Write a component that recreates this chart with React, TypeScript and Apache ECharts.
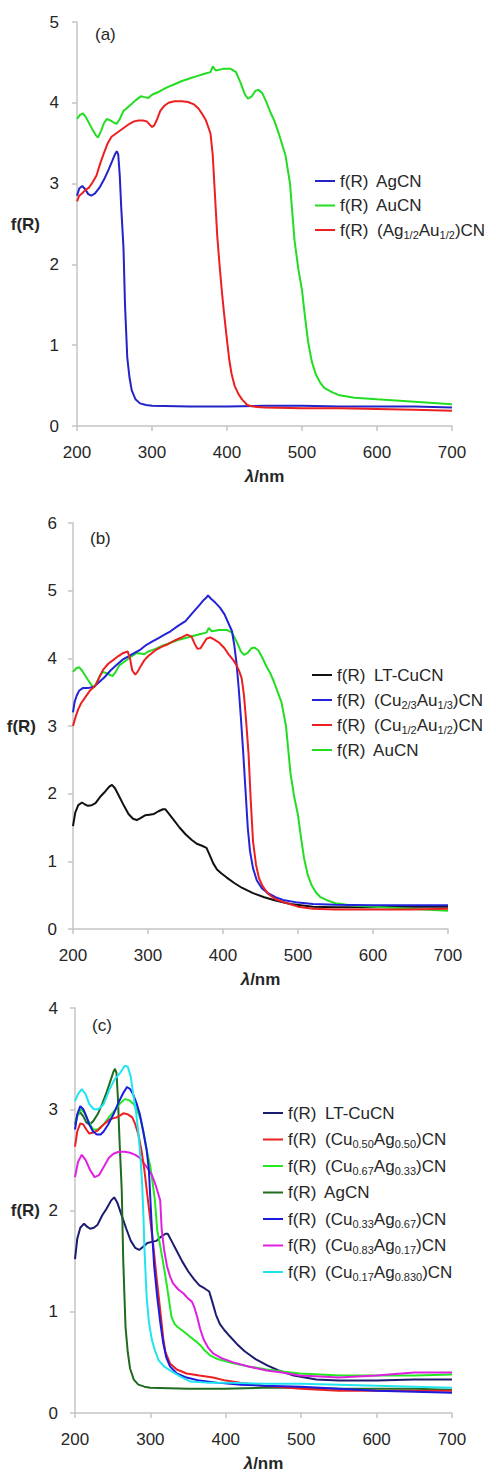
import React, { useEffect, useRef } from "react";
import * as echarts from "echarts";

const FONT = '"Liberation Sans", Arial, Helvetica, sans-serif';

// ---------- shared x ticks ----------
const xTicks = [200, 300, 400, 500, 600, 700];

// ---------- Panel (a) ----------
const agcnL = [200, 203, 207, 211, 215, 219, 224, 230, 236, 242, 247, 251, 253, 255, 257, 259, 262, 264, 267, 270, 273, 278, 284, 292, 300, 350, 400, 450, 500, 550, 600, 650, 700];
const agcnV = [2.85, 2.94, 2.97, 2.93, 2.87, 2.85, 2.88, 2.95, 3.05, 3.17, 3.28, 3.37, 3.4, 3.36, 3.1, 2.7, 2.2, 1.5, 0.85, 0.6, 0.44, 0.33, 0.28, 0.26, 0.25, 0.24, 0.24, 0.25, 0.25, 0.24, 0.24, 0.24, 0.23];

const aucnL = [200, 204, 208, 212, 216, 220, 225, 228, 232, 236, 240, 245, 250, 253, 257, 262, 266, 272, 278, 285, 290, 295, 300, 310, 320, 330, 340, 350, 360, 370, 378, 381, 385, 395, 405, 412, 418, 424, 428, 433, 438, 442, 447, 452, 458, 463, 468, 473, 478, 484, 490, 495, 500, 504, 508, 513, 518, 524, 530, 540, 550, 570, 600, 650, 700];
const aucnV = [3.8, 3.85, 3.87, 3.82, 3.75, 3.68, 3.6, 3.57, 3.65, 3.75, 3.8, 3.78, 3.75, 3.74, 3.8, 3.9, 3.93, 3.98, 4.03, 4.08, 4.07, 4.06, 4.1, 4.14, 4.19, 4.23, 4.27, 4.3, 4.33, 4.36, 4.38, 4.45, 4.4, 4.42, 4.42, 4.38, 4.25, 4.1, 4.05, 4.08, 4.15, 4.16, 4.12, 4.02, 3.88, 3.78, 3.65, 3.5, 3.35, 3.0, 2.3, 1.95, 1.68, 1.35, 1.05, 0.8, 0.65, 0.54, 0.47, 0.42, 0.38, 0.35, 0.33, 0.3, 0.27];

const agauL = [200, 203, 207, 211, 216, 221, 226, 231, 236, 241, 246, 252, 258, 264, 270, 276, 282, 288, 293, 297, 300, 303, 307, 311, 316, 322, 330, 340, 348, 356, 362, 367, 372, 375, 378, 381, 384, 387, 390, 393, 396, 400, 403, 406, 410, 415, 420, 427, 435, 450, 500, 550, 600, 650, 700];
const agauV = [2.78, 2.85, 2.88, 2.92, 2.95, 3.02, 3.1, 3.25, 3.38, 3.5, 3.58, 3.62, 3.66, 3.7, 3.74, 3.77, 3.78, 3.78, 3.77, 3.73, 3.7, 3.72, 3.8, 3.9, 3.96, 4.0, 4.02, 4.02, 4.01, 3.98, 3.93, 3.86, 3.78, 3.7, 3.62, 3.35, 2.85, 2.35, 2.0, 1.68, 1.4, 1.06, 0.82, 0.65, 0.5, 0.4, 0.33, 0.26, 0.24, 0.23, 0.22, 0.22, 0.21, 0.2, 0.19];

// ---------- Panel (b) ----------
const ltL = [200, 203, 207, 212, 216, 220, 225, 230, 236, 242, 248, 252, 256, 262, 268, 274, 280, 285, 290, 296, 302, 308, 314, 320, 323, 328, 335, 342, 350, 358, 365, 372, 378, 382, 387, 392, 398, 405, 415, 425, 440, 455, 470, 490, 520, 550, 600, 650, 700];
const ltV = [1.52, 1.72, 1.83, 1.87, 1.84, 1.82, 1.83, 1.86, 1.95, 2.02, 2.1, 2.13, 2.08, 1.95, 1.82, 1.7, 1.63, 1.61, 1.64, 1.68, 1.69, 1.7, 1.74, 1.77, 1.77, 1.7, 1.6, 1.5, 1.4, 1.32, 1.26, 1.23, 1.2, 1.1, 0.97, 0.88, 0.82, 0.76, 0.68, 0.61, 0.53, 0.47, 0.42, 0.37, 0.33, 0.32, 0.32, 0.33, 0.33];

const cu23L = [200, 202, 205, 208, 213, 220, 228, 235, 242, 250, 258, 266, 274, 282, 290, 298, 306, 314, 322, 330, 340, 350, 360, 368, 374, 378, 380, 384, 390, 396, 402, 408, 412, 415, 418, 421, 424, 427, 430, 433, 436, 440, 445, 452, 460, 470, 480, 500, 520, 550, 600, 650, 700];
const cu23V = [3.2, 3.35, 3.45, 3.52, 3.56, 3.56, 3.58, 3.65, 3.72, 3.82, 3.9, 3.98, 4.03, 4.08, 4.13, 4.2, 4.25, 4.3, 4.35, 4.4, 4.48, 4.55, 4.68, 4.78, 4.86, 4.9, 4.93, 4.88, 4.82, 4.75, 4.65, 4.5, 4.4, 4.2, 3.93, 3.55, 3.1, 2.6, 2.05, 1.5, 1.15, 0.9, 0.72, 0.6, 0.53, 0.47, 0.43, 0.39, 0.37, 0.36, 0.35, 0.35, 0.35];

const cu12L = [200, 203, 207, 211, 216, 223, 230, 240, 247, 253, 260, 267, 273, 276, 279, 283, 286, 290, 295, 300, 310, 318, 325, 335, 343, 352, 358, 362, 366, 370, 374, 378, 383, 388, 395, 402, 408, 414, 418, 422, 425, 428, 431, 434, 437, 440, 444, 448, 453, 460, 470, 480, 500, 520, 550, 600, 650, 700];
const cu12V = [3.0, 3.12, 3.25, 3.34, 3.42, 3.53, 3.6, 3.83, 3.92, 3.97, 4.03, 4.08, 4.1, 4.0, 3.82, 3.76, 3.8, 3.88, 3.97, 4.03, 4.12, 4.17, 4.2, 4.26, 4.3, 4.35, 4.32, 4.22, 4.14, 4.15, 4.22, 4.29, 4.31, 4.28, 4.23, 4.15, 4.05, 3.97, 3.9, 3.8, 3.7, 3.45, 3.05, 2.6, 1.9, 1.3, 0.95, 0.75, 0.63, 0.52, 0.44, 0.4, 0.33, 0.3, 0.29, 0.29, 0.29, 0.3];

// ---------- Panel (c) ----------
const c50L = [200, 203, 207, 211, 215, 219, 224, 230, 238, 246, 255, 260, 264, 270, 276, 280, 284, 288, 292, 296, 300, 304, 308, 311, 314, 317, 320, 326, 335, 348, 365, 383, 400, 419, 450, 500, 550, 600, 650, 700];
const c50V = [2.63, 2.78, 2.86, 2.85, 2.8, 2.76, 2.77, 2.79, 2.85, 2.9, 2.92, 2.94, 2.96, 2.95, 2.92, 2.85, 2.75, 2.6, 2.4, 2.15, 1.9, 1.64, 1.35, 1.15, 0.95, 0.74, 0.6, 0.49, 0.43, 0.39, 0.37, 0.35, 0.32, 0.3, 0.27, 0.24, 0.22, 0.22, 0.22, 0.22];

const c67L = [200, 204, 208, 212, 218, 224, 230, 238, 246, 254, 260, 266, 272, 278, 282, 287, 291, 295, 300, 303, 306, 309, 313, 317, 321, 324, 328, 332, 336, 345, 353, 360, 366, 372, 379, 390, 410, 430, 454, 475, 498, 525, 550, 600, 650, 700];
const c67V = [2.85, 2.95, 3.0, 2.97, 2.88, 2.8, 2.8, 2.85, 2.93, 3.0, 3.06, 3.1, 3.09, 3.05, 3.0, 2.9, 2.77, 2.6, 2.43, 2.27, 2.1, 1.81, 1.65, 1.48, 1.3, 1.15, 0.95, 0.88, 0.85, 0.8, 0.75, 0.71, 0.67, 0.62, 0.57, 0.53, 0.49, 0.46, 0.43, 0.41, 0.39, 0.38, 0.37, 0.37, 0.37, 0.38];

const c33L = [200, 203, 207, 211, 214, 219, 224, 229, 234, 238, 244, 251, 258, 264, 269, 273, 277, 282, 286, 290, 295, 298, 302, 305, 309, 313, 317, 321, 326, 335, 348, 365, 388, 420, 450, 500, 550, 600, 650, 700];
const c33V = [2.8, 2.95, 3.03, 3.0, 2.95, 2.85, 2.78, 2.75, 2.75, 2.78, 2.85, 2.95, 3.07, 3.16, 3.22, 3.2, 3.15, 3.05, 2.95, 2.8, 2.6, 2.4, 1.81, 1.45, 1.15, 0.9, 0.69, 0.55, 0.46, 0.39, 0.35, 0.32, 0.3, 0.28, 0.27, 0.26, 0.24, 0.22, 0.21, 0.2];

const c83L = [200, 204, 209, 214, 220, 226, 232, 238, 245, 251, 258, 266, 273, 280, 286, 291, 296, 302, 307, 313, 315, 318, 322, 326, 330, 337, 344, 350, 355, 358, 362, 366, 371, 377, 383, 395, 410, 430, 454, 475, 498, 525, 550, 575, 600, 650, 700];
const c83V = [2.33, 2.48, 2.55, 2.5, 2.4, 2.33, 2.35, 2.43, 2.52, 2.56, 2.58, 2.58, 2.57, 2.55, 2.52, 2.47, 2.42, 2.35, 2.25, 2.1, 1.81, 1.62, 1.45, 1.35, 1.28, 1.22, 1.18, 1.13, 1.1, 1.05, 0.95, 0.83, 0.72, 0.64, 0.59, 0.54, 0.5, 0.46, 0.42, 0.4, 0.37, 0.36, 0.35, 0.36, 0.37, 0.4, 0.4];

const c17L = [200, 204, 209, 214, 219, 225, 231, 238, 246, 253, 260, 266, 270, 274, 277, 281, 284, 287, 289, 291, 292, 295, 298, 302, 306, 311, 318, 326, 340, 353, 375, 400, 450, 500, 550, 600, 650, 700];
const c17V = [3.08, 3.15, 3.2, 3.15, 3.05, 3.0, 3.0, 3.05, 3.2, 3.3, 3.36, 3.43, 3.42, 3.32, 3.16, 2.97, 2.77, 2.5, 2.27, 1.9, 1.64, 1.15, 0.9, 0.72, 0.62, 0.52, 0.46, 0.42, 0.36, 0.31, 0.3, 0.3, 0.29, 0.29, 0.28, 0.27, 0.26, 0.25];

// ---------- legend labels ----------
const labels: Record<string, string> = {
  a1: "{f|f(R)}{t| AgCN}",
  a2: "{f|f(R)}{t| AuCN}",
  a3: "{f|f(R)}{t| (Ag}{s|1/2}{t|Au}{s|1/2}{t|)CN}",
  b1: "{f|f(R)}{t| LT-CuCN}",
  b2: "{f|f(R)}{t| (Cu}{s|2/3}{t|Au}{s|1/3}{t|)CN}",
  b3: "{f|f(R)}{t| (Cu}{s|1/2}{t|Au}{s|1/2}{t|)CN}",
  b4: "{f|f(R)}{t| AuCN}",
  c1: "{f|f(R)}{t| LT-CuCN}",
  c2: "{f|f(R)}{t| (Cu}{s|0.50}{t|Ag}{s|0.50}{t|)CN}",
  c3: "{f|f(R)}{t| (Cu}{s|0.67}{t|Ag}{s|0.33}{t|)CN}",
  c4: "{f|f(R)}{t| AgCN}",
  c5: "{f|f(R)}{t| (Cu}{s|0.33}{t|Ag}{s|0.67}{t|)CN}",
  c6: "{f|f(R)}{t| (Cu}{s|0.83}{t|Ag}{s|0.17}{t|)CN}",
  c7: "{f|f(R)}{t| (Cu}{s|0.17}{t|Ag}{s|0.830}{t|)CN}",
};

const zip = (l: number[], v: number[]) => l.map((x, i) => [x, v[i]]);

const seriesDefs: [string, number, string, number[], number[]][] = [
  ["a1", 0, "#2323c8", agcnL, agcnV],
  ["a2", 0, "#22dd22", aucnL, aucnV],
  ["a3", 0, "#ec2020", agauL, agauV],
  ["b1", 1, "#111111", ltL, ltV],
  ["b4", 1, "#22dd22", aucnL, aucnV],
  ["b2", 1, "#2323d8", cu23L, cu23V],
  ["b3", 1, "#ec2020", cu12L, cu12V],
  ["c1", 2, "#1c1c6e", ltL, ltV],
  ["c4", 2, "#1f6b1f", agcnL, agcnV],
  ["c3", 2, "#22e822", c67L, c67V],
  ["c6", 2, "#e020e0", c83L, c83V],
  ["c2", 2, "#ec2020", c50L, c50V],
  ["c5", 2, "#1a1ae0", c33L, c33V],
  ["c7", 2, "#20e4f0", c17L, c17V],
];

const grids = [
  { left: 77, top: 22, width: 375, height: 404, ymax: 5, labelMargin: 18, nameGap: 37, namePad: 14 },
  { left: 73, top: 523, width: 375, height: 406, ymax: 6, labelMargin: 16, nameGap: 37, namePad: 0 },
  { left: 75, top: 1008, width: 377, height: 405, ymax: 4, labelMargin: 17, nameGap: 35, namePad: 16 },
];

const axisColor = "#c4c4c4";
const textColor = "#262626";

const rich = {
  f: { fontSize: 17, fontFamily: FONT, color: textColor, lineHeight: 20, padding: [0, 4, 0, 0] },
  t: { fontSize: 17, fontFamily: FONT, color: textColor, lineHeight: 20 },
  s: { fontSize: 11, fontFamily: FONT, color: textColor, lineHeight: 20, verticalAlign: "bottom", padding: [7, 0, 0, 0] },
};

const legendDefs = [
  { left: 315, top: 171, itemGap: 4.5, names: ["a1", "a2", "a3"] },
  { left: 312, top: 665, itemGap: 5, names: ["b1", "b2", "b3", "b4"] },
  { left: 263, top: 1103, itemGap: 6.5, names: ["c1", "c2", "c3", "c4", "c5", "c6", "c7"] },
];

const panelLabels = [
  { text: "(a)", x: 95, y: 34 },
  { text: "(b)", x: 90, y: 538 },
  { text: "(c)", x: 92, y: 1025 },
];

export default function App() {
  const ref = useRef<HTMLDivElement>(null);
  useEffect(() => {
    const chart = echarts.init(ref.current!, null, { renderer: "svg" });
    const option: any = {
      animation: false,
      backgroundColor: "#ffffff",
      textStyle: { fontFamily: FONT },
      grid: grids.map((g) => ({ left: g.left, top: g.top, width: g.width, height: g.height })),
      xAxis: grids.map((g, i) => ({
        gridIndex: i,
        type: "value",
        min: xTicks[0],
        max: xTicks[xTicks.length - 1],
        interval: 100,
        name: "{l|λ}{n|/nm}",
        nameLocation: "middle",
        nameGap: 42,
        nameTextStyle: {
          rich: {
            l: { fontSize: 17, fontWeight: "bold", fontStyle: "italic", fontFamily: FONT, color: textColor },
            n: { fontSize: 17, fontWeight: "bold", fontFamily: FONT, color: textColor },
          },
        },
        axisLine: { show: true, onZero: false, lineStyle: { color: axisColor, width: 1.5 } },
        axisTick: { show: true, length: 5, lineStyle: { color: axisColor, width: 1.5 } },
        axisLabel: { fontSize: 17, color: textColor, margin: 18, fontFamily: FONT },
        splitLine: { show: false },
      })),
      yAxis: grids.map((g, i) => ({
        gridIndex: i,
        type: "value",
        min: 0,
        max: g.ymax,
        interval: 1,
        name: "f(R)",
        nameLocation: "middle",
        nameRotate: 0,
        nameGap: g.nameGap,
        nameTextStyle: {
          fontSize: 17,
          fontWeight: "bold",
          fontFamily: FONT,
          color: textColor,
          padding: [0, 0, g.namePad, 0],
        },
        axisLine: { show: true, onZero: false, lineStyle: { color: axisColor, width: 1.5 } },
        axisTick: { show: true, length: 5, lineStyle: { color: axisColor, width: 1.5 } },
        axisLabel: { fontSize: 17, color: textColor, margin: g.labelMargin, fontFamily: FONT },
        splitLine: { show: false },
      })),
      legend: legendDefs.map((l) => ({
        orient: "vertical",
        left: l.left,
        top: l.top,
        itemGap: l.itemGap,
        itemWidth: 20,
        itemHeight: 2,
        icon: "rect",
        padding: 0,
        selectedMode: false,
        data: l.names,
        formatter: (name: string) => labels[name],
        textStyle: { fontSize: 17, color: textColor, fontFamily: FONT, lineHeight: 20, rich },
      })),
      series: seriesDefs.map(([name, gi, color, l, v]) => ({
        name,
        type: "line",
        xAxisIndex: gi,
        yAxisIndex: gi,
        data: zip(l, v),
        showSymbol: false,
        symbol: "none",
        smooth: false,
        color,
        lineStyle: { color, width: 2 },
      })),
      graphic: panelLabels.map((p) => ({
        type: "text",
        x: p.x,
        y: p.y,
        style: { text: p.text, fontSize: 17, fontFamily: FONT, fill: textColor, textVerticalAlign: "middle", verticalAlign: "middle" },
      })),
    };
    chart.setOption(option);
    return () => chart.dispose();
  }, []);
  return (
    <div
      ref={ref}
      style={{ position: "absolute", left: 0, top: 0, width: 496, height: 1475, background: "#fff" }}
    />
  );
}
